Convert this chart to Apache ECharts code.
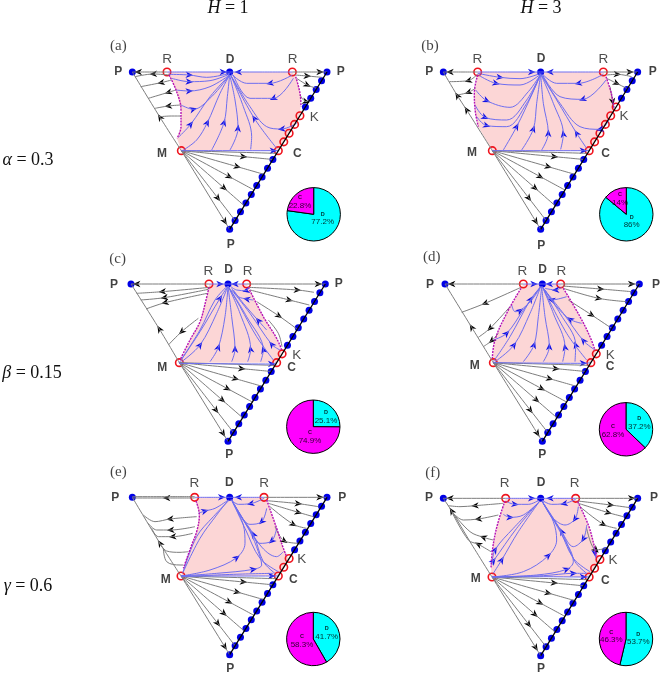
<!DOCTYPE html>
<html><head><meta charset="utf-8">
<style>html,body{margin:0;padding:0;background:#fff}#c{width:660px;height:674px}</style>
<script src="https://cdn.jsdelivr.net/npm/echarts@6/dist/echarts.min.js"></script>
</head><body><div id="c"></div>
<script>
// Fractions along the right edge (bottom P to right P) at which fixed points sit
const edgeFractions=[0,.056,.111,.167,.222,.278,.333,.389,.444,.5,.556,.611,.667,.722,.778,.833,.889,.944,1];
// Straight trajectories leaving M: where they meet the right edge, and where their arrowhead sits along them
const fanEnds=[.483,.444,.35,.25,.15,.056,0];
const fanArrowAt=[0,.68,.68,.66,.68,.68,.9];

// Pie values: [D share, C share]
const pieA=[77.2,22.8], pieB=[86,14], pieC=[25.1,74.9], pieD=[37.2,62.8], pieE=[41.7,58.3], pieF=[53.7,46.3];
// Pie label anchors: [D x, D y, C x, C y]
const pieLabA=[668,566,600,516], pieLabB=[665,575,630,507], pieLabC=[678,501,630,561], pieLabD=[688,519,609,544], pieLabE=[680,505,606,529], pieLabF=[685,521,604,515];

// Fixed points (panel units)
const pointsA={L:[97,126],Rt:[681,126],B:[389,598],M:[244,362],D:[389,126],R1:[201,126],R2:[577,126]};
const pointsB={L:[100,126],Rt:[683,126],B:[392,598],M:[247,362],D:[392,126],R1:[203,126],R2:[580,126]};
const pointsC={L:[93,102],Rt:[676,102],B:[384,574],M:[238,338],D:[384,102],R1:[327,102],R2:[440,102]};
const pointsD={L:[105,102],Rt:[688,102],B:[397,574],M:[250,338],D:[397,102],R1:[340,102],R2:[452,102]};
const pointsE={L:[97,97],Rt:[681,97],B:[389,569],M:[243,333],D:[389,97],R1:[284,97],R2:[492,97]};
const pointsF={L:[100,100],Rt:[683,100],B:[392,572],M:[246,336],D:[392,100],R1:[287,100],R2:[497,100]};
const ringA=[9,10,11,12,13], ringB=[9,10,11,12,13,14], ringC=[9,10], ringD=[9,10], ringE=[9,10,11], ringF=[9,10,11];

// Shaded basin outlines
const pinkA=[[201,126],[577,126],[592,150],[603,200],[600,257],[584,283],[551,336],[535,362],[244,362],[231,325],[243,290],[243,240],[228,180],[207,135]];
const pinkB=[[203,126],[580,126],[592,150],[604,190],[612,242],[597,264],[582,289],[567,313],[552,338],[537,362],[247,362],[205,290],[196,245],[193,190],[203,135]];
const pinkC=[[327,102],[440,102],[445,112],[490,200],[530,265],[546,312],[530,338],[238,338],[270,270],[300,215],[318,150],[327,112]];
const pinkD=[[340,102],[452,102],[460,115],[510,200],[540,260],[559,312],[543,338],[250,338],[247,325],[255,270],[290,190],[333,115]];
const pinkE=[[284,97],[492,97],[500,105],[530,190],[550,250],[567,281],[551,307],[535,333],[243,333],[250,310],[275,240],[290,200],[298,150],[288,108]];
const pinkF=[[287,100],[497,100],[503,110],[535,180],[552,240],[570,284],[554,310],[538,336],[246,336],[243,310],[248,250],[262,180],[285,108]];

// Separatrices
const magentaA=[[[207,135],[228,180],[243,240],[243,290],[231,325]],[[587,140],[600,190],[603,230]]];
const magentaB=[[[203,135],[193,190],[196,245],[205,290]],[[588,140],[604,190],[612,235]]];
const magentaC=[[[327,112],[318,150],[300,215],[270,270],[240,330]],[[445,112],[490,200],[530,265],[545,300]]];
const magentaD=[[[333,115],[290,190],[255,270],[247,325]],[[460,115],[510,200],[540,260],[555,300]]];
const magentaE=[[[288,108],[298,150],[290,200],[275,240],[250,310]],[[500,105],[530,190],[550,250],[560,275]]];
const magentaF=[[[285,108],[262,180],[248,250],[243,310]],[[503,110],[535,180],[552,240],[560,275]]];

// Trajectories inside the basin; a third value marks the arrowhead point
const blueA=[
[[201,126],[300,126],[370,126,1],[389,126]],
[[207,133],[268,135,1],[320,142],[389,130]],
[[215,145],[268,155,1],[330,152],[389,132]],
[[228,180],[268,183,1],[330,170],[389,135]],
[[243,225],[280,238,1],[335,200],[389,135]],
[[235,322],[272,283,1],[330,200],[389,135]],
[[250,360],[290,330],[322,278,1],[360,190],[389,135]],
[[335,360],[372,278,1],[382,200],[389,135]],
[[390,360],[414,295,1],[405,210],[389,135]],
[[452,358],[455,320],[430,230],[392,135]],
[[530,355],[463,265,1],[392,135]],
[[244,362],[520,362,1],[535,362]],
[[577,126],[480,126],[415,126,1],[389,126]],
[[577,135],[510,160,1],[440,160],[392,130]],
[[580,145],[520,205,1],[450,205],[400,135]],
[[590,280],[545,297,1],[500,290],[450,230],[392,135]]];
const blackA=[
[[201,126],[115,126,1],[97,126]],
[[207,135],[160,132,1],[105,140]],
[[215,150],[183,158,1],[122,170]],
[[228,180],[205,187,1],[145,205]],
[[243,225],[205,228,1],[165,235]],
[[243,258],[215,258],[180,260]],
[[244,362],[180,262,1],[97,126]],
[[577,126],[660,126,1],[681,126]],
[[585,135],[622,138,1],[665,142]],
[[590,145],[622,165,1],[650,175]],
[[600,195],[618,215,1],[632,205]]];
const blueB=[
[[203,126],[300,126],[365,126,1],[392,126]],
[[203,130],[270,142,1],[330,146],[392,130]],
[[205,135],[258,160,1],[330,165],[392,132]],
[[197,180],[230,212,1],[300,232],[355,185],[392,132]],
[[195,225],[225,262,1],[290,270],[350,210],[392,132]],
[[200,260],[230,287,1],[290,290],[350,220],[392,132]],
[[280,360],[320,290,1],[365,195],[392,132]],
[[335,360],[370,297,1],[380,220],[392,132]],
[[395,360],[415,310,1],[400,220],[392,132]],
[[452,358],[460,312,1],[430,220],[392,132]],
[[530,355],[500,310,1],[440,210],[392,132]],
[[247,362],[520,362,1],[537,362]],
[[580,126],[480,126],[420,126,1],[392,126]],
[[580,133],[505,160,1],[440,160],[395,130]],
[[588,150],[518,208,1],[450,200],[398,135]],
[[597,270],[570,298,1],[510,290],[450,220],[395,135]]];
const blackB=[
[[203,126],[120,126,1],[100,126]],
[[203,132],[175,152,1],[118,155]],
[[196,175],[175,187,1],[143,195]],
[[247,362],[170,240,1],[142,197,1],[100,126]],
[[580,126],[660,126,1],[683,126]],
[[590,135],[622,133,1],[665,140]],
[[590,145],[620,160,1],[650,175]],
[[600,170],[608,215,1],[612,235]]];
const blueC=[
[[327,102],[360,102,1],[384,102]],
[[440,102],[405,102,1],[384,102]],
[[238,338],[300,245],[360,145,1],[384,108]],
[[245,335],[300,285,1],[350,190],[384,108]],
[[330,335],[355,292,1],[375,200],[384,108]],
[[395,335],[405,298,1],[395,200],[384,108]],
[[443,335],[452,298,1],[420,190],[384,108]],
[[482,335],[490,300,1],[440,200],[384,108]],
[[520,330],[470,260],[420,170],[384,108]],
[[540,300],[515,283,1],[450,190],[395,120]],
[[500,240],[475,212,1],[430,160],[400,120]],
[[445,112],[438,122,1],[410,120],[390,108]],
[[460,150],[440,147,1],[415,140],[395,115]],
[[238,340],[515,342,1],[530,338]],
[[243,330],[300,240],[345,150],[380,110]]];
const blackC=[
[[327,102],[110,102,1],[93,102]],
[[330,112],[187,125,1],[110,130]],
[[325,118],[193,143,1],[122,150]],
[[322,130],[195,158,1],[138,177]],
[[295,205],[245,245,1],[205,285]],
[[238,338],[178,237,1],[93,102]],
[[440,102],[655,102,1],[676,102]],
[[445,112],[592,120,1],[642,127]],
[[450,120],[568,150,1],[628,165]],
[[470,155],[537,198,1],[595,240]],
[[505,210],[535,250],[546,290]]];
const blueD=[
[[340,102],[372,102,1],[397,102]],
[[452,102],[418,102,1],[397,102]],
[[305,165],[315,185],[330,182,1],[365,150],[392,110]],
[[250,270],[290,250,1],[340,180],[392,110]],
[[255,335],[312,285,1],[360,190],[392,110]],
[[250,335],[300,260],[362,148,1],[392,110]],
[[340,335],[372,285,1],[385,200],[395,110]],
[[400,335],[418,290,1],[405,200],[395,110]],
[[458,335],[465,292,1],[430,190],[397,110]],
[[495,335],[497,285,1],[450,190],[397,110]],
[[530,330],[470,250],[397,110]],
[[555,300],[520,272,1],[460,190],[400,115]],
[[515,220],[480,208,1],[440,170],[405,120]],
[[470,140],[425,150,1],[405,125]],
[[455,112],[437,120,1],[405,115]],
[[250,338],[520,340,1],[543,338]]];
const blackD=[
[[340,102],[125,102,1],[105,102]],
[[333,112],[225,160,1],[155,187]],
[[300,170],[240,235,1],[205,262]],
[[265,250],[245,272,1],[220,290]],
[[250,338],[185,232,1],[105,102]],
[[452,102],[665,102,1],[688,102]],
[[458,108],[572,117,1],[665,125]],
[[460,115],[566,145,1],[650,155]],
[[475,150],[545,195,1],[605,235]]];
const blueE=[
[[284,97],[365,97,1],[389,97]],
[[492,97],[415,97,1],[389,97]],
[[295,145],[315,138,1],[345,130],[385,105]],
[[250,320],[300,220],[350,150],[385,105]],
[[248,325],[290,215],[340,155],[385,108]],
[[243,333],[330,315],[410,278,1],[435,235],[430,180],[395,105]],
[[243,333],[350,325],[460,313,1],[485,300],[475,260],[450,200],[400,115]],
[[243,333],[515,333,1],[535,333]],
[[245,335],[400,328],[520,325]],
[[492,100],[452,116,1],[415,118],[392,102]],
[[500,130],[485,170,1],[450,178],[420,150],[395,105]],
[[530,190],[515,228,1],[480,235],[450,195],[395,105]],
[[550,260],[530,275],[480,240],[395,105]],
[[525,325],[490,290],[460,208,1],[420,150],[395,105]],
[[535,320],[480,280],[435,190],[395,105]]];
const blackE=[
[[284,95],[200,95],[97,95]],
[[284,99],[200,99,1],[97,99]],
[[290,155],[210,162,1],[165,170],[130,150]],
[[285,185],[212,195,1],[170,195],[145,175]],
[[278,205],[218,215,1],[175,215],[155,190]],
[[265,260],[240,262],[200,258],[175,230]],
[[250,300],[240,300],[200,290],[190,250]],
[[243,333],[180,235,1],[97,97]],
[[492,97],[660,97,1],[681,97]],
[[500,107],[595,116,1],[655,125]],
[[505,115],[595,142,1],[640,155]],
[[510,125],[580,178,1],[620,190]],
[[525,185],[553,228,1],[600,235]]];
const blueF=[
[[287,100],[365,100,1],[392,100]],
[[497,100],[420,100,1],[392,100]],
[[290,110],[315,118,1],[355,118],[388,105]],
[[280,148],[300,157,1],[340,150],[388,110]],
[[246,300],[255,255,1],[310,190],[388,110]],
[[243,295],[250,288,1],[320,190],[388,110]],
[[250,325],[275,285,1],[325,200],[388,110]],
[[246,336],[340,320],[415,272,1],[440,225],[430,170],[397,110]],
[[246,336],[380,330],[470,313,1],[490,290],[450,200],[397,110]],
[[246,336],[400,335],[520,336,1],[538,336]],
[[246,336],[400,332],[490,325,1],[530,325]],
[[497,103],[462,116,1],[425,118],[395,105]],
[[505,125],[495,162,1],[465,180],[430,160],[397,110]],
[[530,180],[520,222,1],[490,245],[455,200],[397,110]],
[[530,325],[495,290],[455,200,1],[420,150],[397,110]],
[[540,320],[490,280],[445,185],[397,110]],
[[552,245],[555,265,1],[557,280]]];
const blackF=[
[[287,100],[120,100,1],[100,100]],
[[280,115],[195,122,1],[150,125],[115,122]],
[[265,150],[205,162,1],[160,165],[130,145]],
[[250,225],[220,217,1],[180,200],[125,140]],
[[243,260],[205,238,1],[175,225],[125,140]],
[[246,336],[180,230],[125,138,1],[100,100]],
[[497,100],[665,100,1],[683,100]],
[[503,108],[602,120,1],[660,128]],
[[505,115],[595,143,1],[640,155]],
[[510,125],[580,178,1],[620,190]],
[[530,190],[558,255,1],[590,250]]];

// Vertex names: [text, x, y]
const boldA=[['P',55,124],['D',390,88],['P',722,124],['M',186,370],['C',592,372],['P',392,645]];
const boldB=[['P',58,124],['D',393,85],['P',728,124],['M',186,367],['C',587,372],['P',394,648]];
const boldC=[['P',42,104],['D',386,60],['P',716,102],['M',187,352],['C',575,354],['P',388,613]];
const boldD=[['P',60,104],['D',398,60],['P',738,104],['M',194,347],['C',600,350],['P',397,613]];
const boldE=[['P',46,97],['D',388,54],['P',727,97],['M',197,345],['C',580,345],['P',391,610]];
const boldF=[['P',57,99],['D',393,53],['P',732,99],['M',197,342],['C',586,348],['P',393,610]];
const thinA=[['R',201,88],['R',578,88],['K',643,262]];
const thinB=[['R',202,88],['R',580,88],['K',642,260]];
const thinC=[['R',325,63],['R',443,63],['K',590,315]];
const thinD=[['R',337,63],['R',454,63],['K',601,315]];
const thinE=[['R',283,54],['R',492,54],['K',605,283]];
const thinF=[['R',284,55],['R',494,55],['K',609,286]];
const tagA=['(a)',55,47], tagB=['(b)',60,47], tagC=['(c)',53,27], tagD=['(d)',65,22], tagE=['(e)',55,22], tagF=['(f)',68,25];

const panels=[
 {box:[100,30,250,220],pie:pieA,lab:pieLabA,pc:[313.7,214.3],pts:pointsA,ring:ringA,pink:pinkA,mag:magentaA,blue:blueA,black:blackA,bold:boldA,thin:thinA,tag:tagA},
 {box:[410,30,250,220],pie:pieB,lab:pieLabB,pc:[626.3,214.3],pts:pointsB,ring:ringB,pink:pinkB,mag:magentaB,blue:blueB,black:blackB,bold:boldB,thin:thinB,tag:tagB},
 {box:[100,250,250,210],pie:pieC,lab:pieLabC,pc:[313.3,426.7],pts:pointsC,ring:ringC,pink:pinkC,mag:magentaC,blue:blueC,black:blackC,bold:boldC,thin:thinC,tag:tagC},
 {box:[410,250,250,210],pie:pieD,lab:pieLabD,pc:[626,429.3],pts:pointsD,ring:ringD,pink:pinkD,mag:magentaD,blue:blueD,black:blackD,bold:boldD,thin:thinD,tag:tagD},
 {box:[100,465,250,209],pie:pieE,lab:pieLabE,pc:[313.3,639],pts:pointsE,ring:ringE,pink:pinkE,mag:magentaE,blue:blueE,black:blackE,bold:boldE,thin:thinE,tag:tagE},
 {box:[410,465,250,209],pie:pieF,lab:pieLabF,pc:[626,639],pts:pointsF,ring:ringF,pink:pinkF,mag:magentaF,blue:blueF,black:blackF,bold:boldF,thin:thinF,tag:tagF}
];

const ARROW='path://M0,-5 L4,5 L0,2 L-4,5 Z';
const flat=cs=>{const o=[];cs.forEach(c=>{c.forEach(p=>o.push([p[0],p[1]]));o.push(['-','-']);});return o;};
const arrowsOf=cs=>{const o=[];cs.forEach(c=>c.forEach((p,i)=>{if(p[2]){const a=c[i-1],b=c[i+1];
  o.push({value:[p[0],p[1]],symbolRotate:Math.atan2(-(b[0]-a[0]),-(b[1]-a[1]))*180/Math.PI});}}));return o;};

const grid=[],xAxis=[],yAxis=[],series=[];
panels.forEach((p,i)=>{
 const [l,t,w,h]=p.box;
 grid.push({left:l,top:t,width:w,height:h});
 xAxis.push({gridIndex:i,type:'value',min:0,max:w*3,show:false});
 yAxis.push({gridIndex:i,type:'value',min:0,max:h*3,inverse:true,show:false});
 const ax={xAxisIndex:i,yAxisIndex:i,animation:false,silent:true};
 const P=p.pts;
 const edge=f=>[P.B[0]+(P.Rt[0]-P.B[0])*f,P.B[1]+(P.Rt[1]-P.B[1])*f];
 const fan=fanEnds.map((f,j)=>{const e=edge(f),t=fanArrowAt[j];
   return t?[P.M,[P.M[0]+(e[0]-P.M[0])*t,P.M[1]+(e[1]-P.M[1])*t,1],e]:[P.M,e];});
 const black=p.black.concat(fan);
 const line=(data,color,width,type,smooth)=>({...ax,type:'line',data,showSymbol:false,smooth:smooth,connectNulls:false,clip:false,
   lineStyle:{color,width,type:type||'solid'},itemStyle:{color}});
 series.push({...ax,type:'custom',clip:false,data:[0],renderItem:(ps,api)=>({type:'polygon',
    shape:{points:p.pink.map(q=>api.coord(q))},style:{fill:'#fcd6d6'}})});
 series.push(line(flat(black),'#7d7d7d',1,'solid',0.35));
 series.push(line(flat(p.blue),'#6e6ef0',1,'solid',0.35));
 series.push(line(flat(p.mag),'#b512b5',1.4,[2,1],0.4));
 series.push(line([P.B,P.Rt],'#000',1.3,'solid',false));
 const dots=edgeFractions.map((f,k)=>k).filter(k=>!p.ring.includes(k)).map(k=>edge(edgeFractions[k])).concat([P.L,P.D]);
 series.push({...ax,type:'scatter',data:dots,symbolSize:7,itemStyle:{color:'#0000e6',opacity:1},clip:false});
 const rings=p.ring.map(k=>edge(edgeFractions[k])).concat([P.M,P.R1,P.R2]);
 series.push({...ax,type:'scatter',data:rings,symbolSize:7.5,itemStyle:{color:'rgba(255,255,255,0)',borderColor:'#f0141e',borderWidth:1.6,opacity:1},clip:false});
 series.push({...ax,type:'scatter',data:arrowsOf(p.blue),symbol:ARROW,symbolSize:[6.5,7.5],itemStyle:{color:'#1010e6',opacity:1},clip:false});
 series.push({...ax,type:'scatter',data:arrowsOf(black),symbol:ARROW,symbolSize:[6.5,7.5],itemStyle:{color:'#000',opacity:1},clip:false});
 const labs=(arr,st)=>({...ax,type:'scatter',symbolSize:0,clip:false,
   data:arr.map(a=>({name:a[0],value:[a[1],a[2]]})),
   label:{show:true,position:'inside',formatter:q=>q.name,...st}});
 series.push(labs(p.bold,{fontFamily:'Liberation Sans',fontWeight:'bold',fontSize:12,color:'#111'}));
 series.push(labs(p.thin,{fontFamily:'Liberation Sans',fontSize:13.5,color:'#222'}));
 series.push(labs([p.tag],{fontFamily:'Liberation Serif',fontSize:15,color:'#111'}));
 series.push({type:'pie',center:p.pc,radius:[0,26.7],startAngle:90,clockwise:true,animation:false,silent:true,
   data:[{name:'D',value:p.pie[0],itemStyle:{color:'#00ffff'}},{name:'C',value:p.pie[1],itemStyle:{color:'#ff00ff'}}],
   itemStyle:{borderColor:'#000',borderWidth:1},label:{show:false},labelLine:{show:false}});
 const pl=p.lab;
 series.push({...ax,type:'scatter',symbolSize:0,clip:false,z:5,
   data:[{name:'D',pct:p.pie[0],value:[pl[0],pl[1]]},{name:'C',pct:p.pie[1],value:[pl[2],pl[3]]}].map(d=>({name:d.name,value:d.value,label:{formatter:'{n|'+d.name+'}\n{p|'+d.pct+'%}'}})),
   label:{show:true,position:'inside',color:'#000',
     rich:{n:{fontFamily:'Liberation Sans',fontWeight:'bold',fontSize:5.5,lineHeight:7,color:'#000'},p:{fontFamily:'Liberation Sans',fontSize:8,lineHeight:9,color:'#000'}}}});
});

const serif='Liberation Serif';
const rich={i:{fontFamily:serif,fontStyle:'italic',fontSize:18,color:'#111'},r:{fontFamily:serif,fontSize:18,color:'#111'}};
const gtext=(x,y,t)=>({type:'text',x,y,style:{text:t,rich,align:'center',verticalAlign:'middle',font:'18px '+serif,fill:'#111'}});
const graphic=[
 gtext(228,8,'{i|H} {r|= 1}'),gtext(541,8,'{i|H} {r|= 3}'),
 gtext(28,160,'{i|α} {r|= 0.3}'),gtext(32,373,'{i|β} {r|= 0.15}'),gtext(28,586,'{i|γ} {r|= 0.6}')
];
const chart=echarts.init(document.getElementById('c'),null,{renderer:'canvas'});
chart.setOption({animation:false,backgroundColor:'#fff',grid,xAxis,yAxis,series,graphic});
</script></body></html>
